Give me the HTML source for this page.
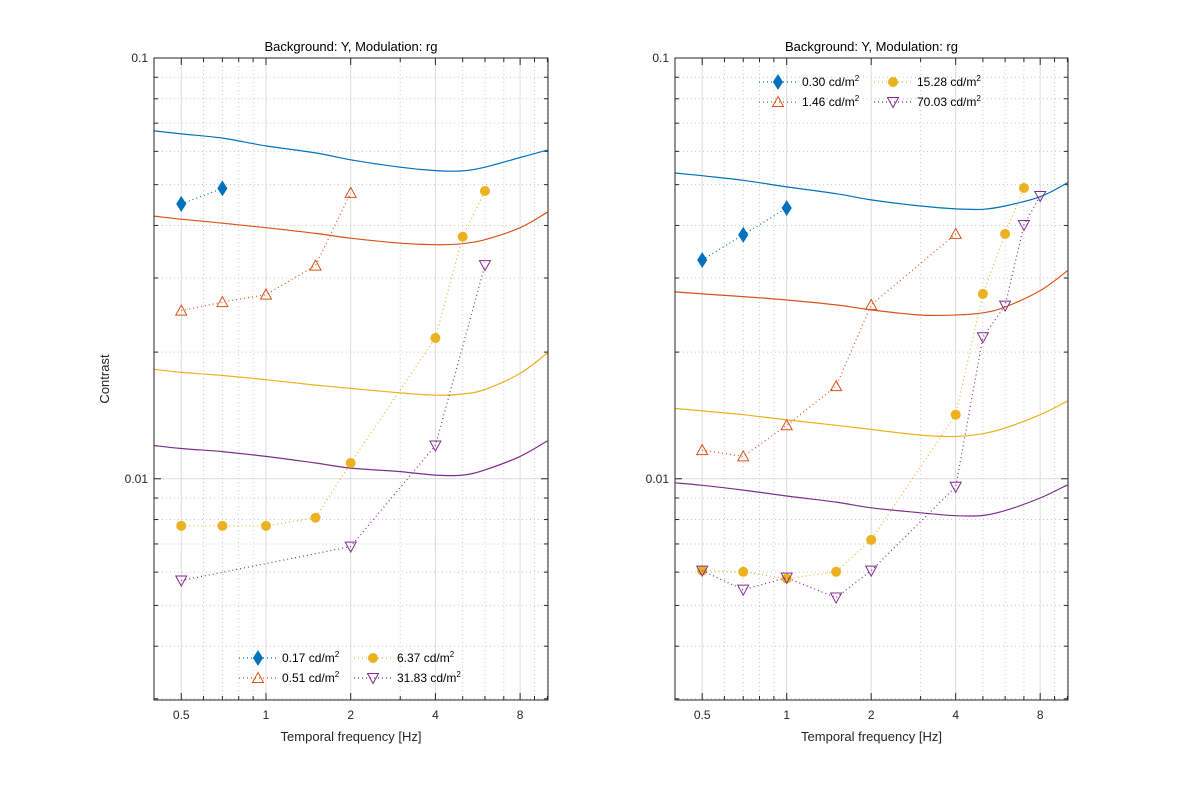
<!DOCTYPE html>
<html><head><meta charset="utf-8"><style>
body{margin:0;background:#fff}
svg{font-family:"Liberation Sans",Arial,sans-serif}
</style></head><body>
<svg id="fig" width="1181" height="787" viewBox="0 0 1181 787" xmlns="http://www.w3.org/2000/svg">
<rect width="1181" height="787" fill="#fff"/>
</svg>
<script>
const freqs = [0.5,0.7,1,1.5,2,4,5,6,7,8];
const curveFreqs = [0.4,0.5,0.7,1,1.5,2,3,4,5,6,8,10];
const colors = ['#0072BD','#D95319','#EDB120','#7E2F8E'];
const leftLabels = ['0.17','0.51','6.37','31.83'];
const rightLabels = ['0.30','1.46','15.28','70.03'];
const leftData = [
 [0.045,0.049,null,null,null,null,null,null,null,null],
 [0.0251,0.0263,0.0274,0.0321,0.0478,null,null,null,null,null],
 [0.00773,0.00773,0.00773,0.00808,0.0109,0.0216,0.0376,0.0483,null,null],
 [0.00573,null,null,null,0.0069,0.0120,null,0.0322,null,null]
];
const rightData = [
 [0.0331,0.038,0.044,null,null,null,null,null,null,null],
 [0.0117,0.0113,0.0134,0.0166,0.0259,0.0382,null,null,null,null],
 [0.00605,0.00601,0.00579,0.00601,0.00716,0.0142,0.0275,0.0382,0.0491,null],
 [0.00605,0.00545,0.00582,0.00522,0.00605,0.00957,0.0217,0.0258,0.0401,0.047]
];
const leftCurves = [
 [0.0671,0.066,0.0645,0.0618,0.0595,0.0573,0.055,0.054,0.0539,0.055,0.058,0.0604],
 [0.0421,0.0414,0.0405,0.0395,0.0383,0.0373,0.0363,0.036,0.0362,0.0370,0.0395,0.0430],
 [0.0182,0.0179,0.0176,0.0172,0.0167,0.0164,0.0160,0.0158,0.0159,0.0163,0.0178,0.0199],
 [0.0120,0.0118,0.0116,0.0113,0.0109,0.0106,0.0104,0.0102,0.0102,0.0105,0.0113,0.0123]
];
const rightCurves = [
 [0.0533,0.0525,0.0512,0.0494,0.0476,0.046,0.0445,0.0438,0.0437,0.0445,0.0468,0.0505],
 [0.0278,0.0275,0.0271,0.0266,0.0259,0.0252,0.0245,0.0245,0.0248,0.0256,0.0280,0.0312],
 [0.0147,0.0145,0.0142,0.0138,0.0134,0.0131,0.0127,0.0126,0.0128,0.0132,0.0142,0.0153],
 [0.00978,0.00965,0.0094,0.0091,0.0088,0.00853,0.0083,0.00817,0.00818,0.0084,0.0090,0.00967]
];
const xTicks = [0.5,1,2,4,8];
const yTicks = [0.01,0.1];
const NS='http://www.w3.org/2000/svg';
const svg=document.getElementById('fig');
function el(tag,attrs,parent){const e=document.createElementNS(NS,tag);for(const k in attrs)e.setAttribute(k,attrs[k]);(parent||svg).appendChild(e);return e;}
function smoothPath(pts){
  let d='M'+pts[0][0].toFixed(1)+','+pts[0][1].toFixed(1);
  for(let i=0;i<pts.length-1;i++){
    const p0=pts[Math.max(0,i-1)],p1=pts[i],p2=pts[i+1],p3=pts[Math.min(pts.length-1,i+2)];
    const c1x=p1[0]+(p2[0]-p0[0])/6,c1y=p1[1]+(p2[1]-p0[1])/6;
    const c2x=p2[0]-(p3[0]-p1[0])/6,c2y=p2[1]-(p3[1]-p1[1])/6;
    d+=`C${c1x.toFixed(1)},${c1y.toFixed(1)} ${c2x.toFixed(1)},${c2y.toFixed(1)} ${p2[0].toFixed(1)},${p2[1].toFixed(1)}`;
  }
  return d;
}
function panel(x0,x1,y0,y1,data,curves,labels,legendPos,side,ylabel){
  const g=el('g',{});
  
  
  const xmin=Math.log2(0.4),xmax=Math.log2(10.05),ymin=Math.log10(0.00298),ymax=-1;
  const X=f=>x0+(Math.log2(f)-xmin)/(xmax-xmin)*(x1-x0);
  const Y=c=>y1-(Math.log10(c)-ymin)/(ymax-ymin)*(y1-y0);
  const minorX=[0.6,0.7,0.8,0.9,3,5,6,7,9,10];
  minorX.forEach(f=>{const l=el('line',{x1:X(f),x2:X(f),y1:y0,y2:y1,stroke:'#c8c8c8','stroke-dasharray':'1,3','stroke-width':1},g);});
  xTicks.forEach(f=>{const l=el('line',{x1:X(f),x2:X(f),y1:y0,y2:y1,stroke:'#dcdcdc','stroke-width':1},g);});
  const minorY=[];for(let d of [0.001,0.01]){for(let m=2;m<=9;m++){const v=d*m;if(v>0.00298&&v<0.1)minorY.push(v);}}
  minorY.forEach(v=>{const l=el('line',{x1:x0,x2:x1,y1:Y(v),y2:Y(v),stroke:'#c8c8c8','stroke-dasharray':'1,3'},g);
    el('line',{x1:x0,x2:x0+4,y1:Y(v),y2:Y(v),stroke:'#262626'},g);el('line',{x1:x1,x2:x1-4,y1:Y(v),y2:Y(v),stroke:'#262626'},g);});
  yTicks.forEach(v=>{const l=el('line',{x1:x0,x2:x1,y1:Y(v),y2:Y(v),stroke:'#dcdcdc'},g);
    el('line',{x1:x0,x2:x0+7,y1:Y(v),y2:Y(v),stroke:'#262626'},g);el('line',{x1:x1,x2:x1-7,y1:Y(v),y2:Y(v),stroke:'#262626'},g);
    const t=el('text',{x:x0-6,y:Y(v)+4,'text-anchor':'end','font-size':12,fill:'#262626'},g);t.textContent=String(v);});
  minorX.forEach(f=>{el('line',{x1:X(f),x2:X(f),y1:y1,y2:y1-4,stroke:'#262626'},g);el('line',{x1:X(f),x2:X(f),y1:y0,y2:y0+4,stroke:'#262626'},g);});
  xTicks.forEach(f=>{el('line',{x1:X(f),x2:X(f),y1:y1,y2:y1-7,stroke:'#262626'},g);el('line',{x1:X(f),x2:X(f),y1:y0,y2:y0+7,stroke:'#262626'},g);
    const t=el('text',{x:X(f),y:y1+19,'text-anchor':'middle','font-size':12,fill:'#262626'},g);t.textContent=String(f);});
  curves.forEach((cv,i)=>{const pts=cv.map((v,j)=>[X(curveFreqs[j]),Y(v)]);
    const p=el('path',{d:smoothPath(pts),fill:'none',stroke:colors[i],'stroke-width':1.2,'stroke-linejoin':'round'},g);});
  data.forEach((s,i)=>{let d='';let first=true;s.forEach((v,j)=>{if(v==null)return;d+=(first?'M':'L')+X(freqs[j]).toFixed(1)+','+Y(v).toFixed(1);first=false;});
    const p=el('path',{d:d,fill:'none',stroke:colors[i],'stroke-width':1.2,'stroke-dasharray':'1,3'},g);
    s.forEach((v,j)=>{if(v==null)return;const m=marker(i,X(freqs[j]),Y(v),g);});});
  el('rect',{x:x0,y:y0,width:x1-x0,height:y1-y0,fill:'none',stroke:'#262626','stroke-width':1},g);
  const tt=el('text',{x:(x0+x1)/2,y:y0-7,'text-anchor':'middle','font-size':13,fill:'#000'},g);tt.textContent='Background: Y, Modulation: rg';
  const xl=el('text',{x:(x0+x1)/2,y:y1+41,'text-anchor':'middle','font-size':13,fill:'#262626'},g);xl.textContent='Temporal frequency [Hz]';
  if(ylabel){const yl=el('text',{x:0,y:0,transform:'translate(109,'+((y0+y1)/2)+') rotate(-90)','text-anchor':'middle','font-size':13,fill:'#262626'},g);yl.textContent='Contrast';}
  const [lx,ly]=legendPos;
  labels.forEach((lab,i)=>{const col=i<2?0:1,row=i%2;const bx=lx+col*115,by=ly+row*20;
    const lg=el('g',{},g);
    el('line',{x1:bx,x2:bx+38,y1:by,y2:by,stroke:colors[i],'stroke-width':1.2,'stroke-dasharray':'1,3'},lg);
    marker(i,bx+19,by,lg);
    const t=el('text',{x:bx+43,y:by+4,'font-size':12,fill:'#000'},lg);
    t.appendChild(document.createTextNode(lab+' cd/m'));
    const sup=el('tspan',{dy:-5,'font-size':8},t);sup.textContent='2';});
}
function marker(i,x,y,g){
  const c=colors[i];
  if(i===0)return el('path',{d:`M${x},${y-7}L${x+4.5},${y}L${x},${y+7}L${x-4.5},${y}Z`,fill:c,stroke:c},g);
  if(i===1)return el('path',{d:`M${x},${y-5.5}L${x+5.5},${y+4.5}L${x-5.5},${y+4.5}Z`,fill:'none',stroke:c,'stroke-width':1},g);
  if(i===2)return el('circle',{cx:x,cy:y,r:4.5,fill:c,stroke:c},g);
  return el('path',{d:`M${x},${y+5.5}L${x+5.5},${y-4.5}L${x-5.5},${y-4.5}Z`,fill:'none',stroke:c,'stroke-width':1},g);
}
panel(154,548,58,700,leftData,leftCurves,leftLabels,[239,658],'left',true);
panel(675,1068,58,700,rightData,rightCurves,rightLabels,[759,82],'right',false);
</script>
</body></html>
